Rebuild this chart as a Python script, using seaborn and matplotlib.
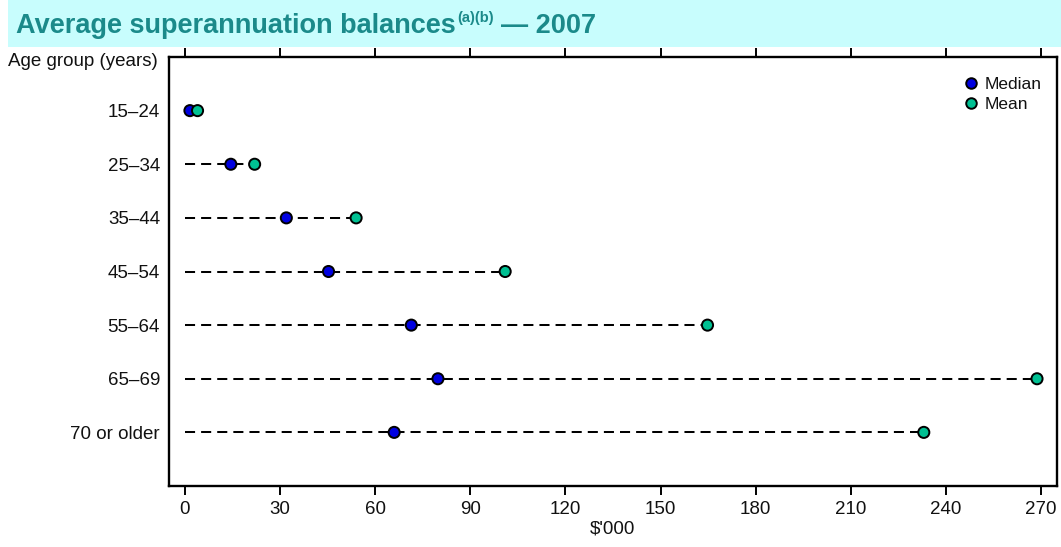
import matplotlib
matplotlib.use("Agg")
import matplotlib.pyplot as plt
import seaborn as sns
import pandas as pd
from matplotlib.patches import Rectangle

# Data ($'000)
age_groups = ["15–24", "25–34", "35–44", "45–54", "55–64", "65–69", "70 or older"]
median_vals = [1.6, 14.5, 32, 45.3, 71.4, 79.8, 66.0]
mean_vals = [4.0, 22, 54, 101, 164.8, 268.7, 233]
x_ticks = [0, 30, 60, 90, 120, 150, 180, 210, 240, 270]

sns.set_theme(style="white")
plt.rcParams["font.family"] = ["Liberation Sans", "DejaVu Sans"]

df = pd.DataFrame({
    "Age group": age_groups * 2,
    "value": median_vals + mean_vals,
    "stat": ["Median"] * len(age_groups) + ["Mean"] * len(age_groups),
})

W, H = 1061, 547
fig = plt.figure(figsize=(W / 100, H / 100), dpi=100)
ax = fig.add_axes([169 / W, 1 - 486 / H, (1057 - 169) / W, (486 - 57) / H])

# Title band
fig.patches.append(Rectangle((8 / W, 1 - 47 / H), 1, 47 / H,
                             transform=fig.transFigure, facecolor="#c8fdfd",
                             edgecolor="none", zorder=0))

# Dashed guide lines from zero to the mean
ax.hlines(y=list(range(len(age_groups))), xmin=0, xmax=mean_vals,
          colors="black", linestyles=(0, (5, 3)), linewidth=1.45, zorder=1)

palette = {"Median": "#0000e0", "Mean": "#00c092"}
sns.scatterplot(data=df, x="value", y="Age group", hue="stat",
                palette=palette, s=64, edgecolor="black", linewidth=1.4,
                ax=ax, zorder=3, legend=True)

ax.set_xlim(-5, 275)
ax.set_ylim(len(age_groups), -1)
ax.set_xticks(x_ticks)
ax.set_xticklabels([str(t) for t in x_ticks], fontsize=13.5, color="#111111")
ax.tick_params(axis="x", which="both", direction="out", length=6.5, width=1.4,
               top=True, bottom=True, labeltop=False, color="black", pad=4)
ax.tick_params(axis="y", length=0, labelsize=13.5, labelcolor="#111111", pad=6.5)
ax.set_xlabel("$'000", fontsize=13.5, color="#111111", labelpad=2)
ax.set_ylabel("")
for sp in ax.spines.values():
    sp.set_color("black")
    sp.set_linewidth(1.7)
    sp.set_visible(True)

fig.text(158 / W, 1 - 62 / H, "Age group (years)", ha="right", va="center",
         fontsize=13.5, color="#111111")

leg = ax.legend(loc="upper right", frameon=False, fontsize=12.5, title=None,
                handlelength=1.0, handletextpad=0.25, borderaxespad=0.5,
                labelspacing=0.3, markerscale=0.95,
                bbox_to_anchor=(1.0, 0.99))
for h in leg.legend_handles:
    if hasattr(h, "set_markeredgecolor"):
        h.set_markeredgecolor("black")
        h.set_markeredgewidth(1.4)
    elif hasattr(h, "set_edgecolor"):
        h.set_edgecolor("black")
for t in leg.get_texts():
    t.set_color("#111111")

# Title with superscript notes
fig.canvas.draw()
renderer = fig.canvas.get_renderer()
title_color = "#1b8a8a"
t1 = fig.text(16 / W, 1 - 33 / H, "Average superannuation balances",
              fontsize=19.5, fontweight="bold", color=title_color, va="baseline")
bb = t1.get_window_extent(renderer)
t2 = fig.text((bb.x1 + 1) / W, 1 - 22 / H, "(a)(b)", fontsize=10.5,
              fontweight="bold", color=title_color, va="baseline")
bb2 = t2.get_window_extent(renderer)
fig.text((bb2.x1 + 8) / W, 1 - 33 / H, "— 2007", fontsize=19.5,
         fontweight="bold", color=title_color, va="baseline")

fig.savefig("out.png", dpi=100)
